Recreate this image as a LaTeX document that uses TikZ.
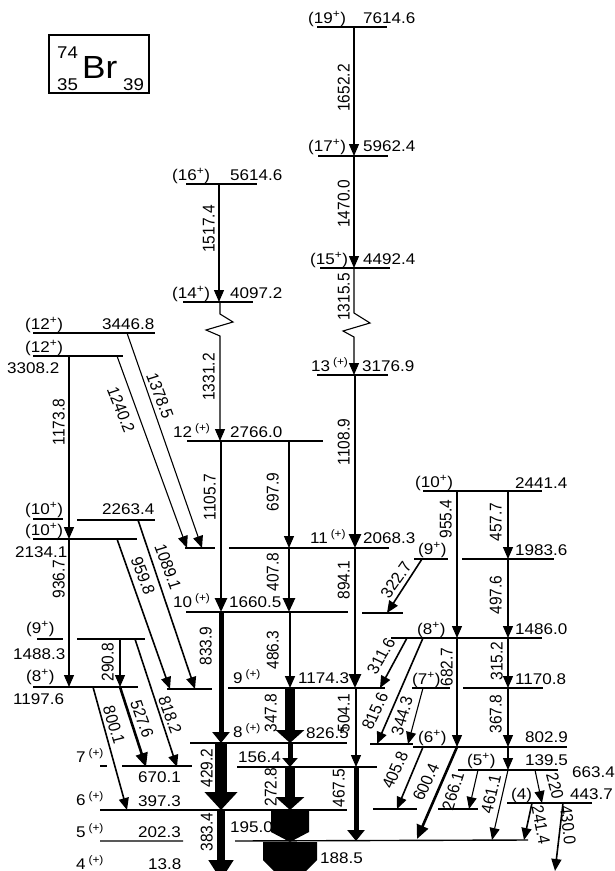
\documentclass[tikz,border=0pt]{standalone}
\usepackage{fontspec}
\setmainfont{Liberation Sans}
\usetikzlibrary{arrows.meta}
\begin{document}
\begin{tikzpicture}[x=1pt,y=-1pt,
  lvl/.style={line width=1.4pt},
  gam/.style={line width=1.1pt,-{Triangle[length=12pt,width=10pt]}},
  gamb/.style={line width=1.6pt,-{Triangle[length=12pt,width=10pt]}},
  gamc/.style={line width=2.6pt,-{Triangle[length=14pt,width=12pt]}},
  gamd/.style={line width=5pt,-{Triangle[length=11pt,width=17pt]}},
  game/.style={line width=10pt,-{Triangle[length=13pt,width=28pt]}},
  lab/.style={font=\fontsize{15.5}{18}\selectfont,inner sep=0pt,anchor=base west,xscale=1.1},
  vlab/.style={font=\fontsize{15.5}{18}\selectfont,inner sep=0pt,xscale=1.1,rotate=90,anchor=south},
  dlab/.style={font=\fontsize{15.5}{18}\selectfont,inner sep=0pt,xscale=1.1}]
  \useasboundingbox (0,0) rectangle (615,871);
  \clip (0,0) rectangle (615,871);
  % nucleus
  \draw[line width=1.2pt] (49,35) rectangle (149,93);
  \node[lab,font=\fontsize{17}{18}\selectfont] (mass) at (57,58) {74};
  \node[lab,font=\fontsize{32}{36}\selectfont] (elem) at (82,78) {Br};
  \node[lab,font=\fontsize{17}{18}\selectfont] (prot) at (57,90) {35};
  \node[lab,font=\fontsize{17}{18}\selectfont] (neut) at (123,90) {39};
  % levels
  \draw[lvl] (317,27) -- (387,27);
  \draw[lvl] (318,156) -- (388,156);
  \draw[lvl] (320,268) -- (390,268);
  \draw[lvl] (186,184) -- (257,184);
  \draw[lvl] (183,302) -- (253,302);
  \draw[lvl] (317,375) -- (388,375);
  \draw[lvl] (33,333) -- (155,333);
  \draw[lvl] (33,356) -- (123,356);
  \draw[lvl] (187,441) -- (323,441);
  \draw[lvl] (185,548) -- (215,548) (229,548) -- (389,548);
  \draw[lvl] (33,519) -- (63,519) (77,520) -- (155,520);
  \draw[lvl] (33,539) -- (137,539);
  \draw[lvl] (186,612) -- (348,612) (362,613) -- (403,613);
  \draw[lvl] (37,639) -- (63,639) (77,639) -- (145,639);
  \draw[lvl] (33,687) -- (138,687);
  \draw[lvl] (167,689) -- (212,689) (228,688) -- (385,688);
  \draw[lvl] (190,743) -- (347,743) (370,744) -- (413,744);
  \draw[lvl] (100,766) -- (107,766) (122,766) -- (192,766) (237,767) -- (377,767);
  \draw[lvl] (100,810) -- (347,810) (373,809) -- (417,809) (438,809) -- (478,809);
  \draw[lvl] (100,841) -- (183,841) (235,841) -- (528,840);
  \draw[lvl] (423,491) -- (542,491);
  \draw[lvl] (462,559) -- (554,559);
  \draw[lvl] (414,559) -- (448,559);
  \draw[lvl] (391,638) -- (542,638);
  \draw[lvl] (412,688) -- (450,688);
  \draw[lvl] (463,688) -- (543,688);
  \draw[lvl] (413,747) -- (567,747);
  \draw[lvl] (458,770) -- (558,770);
  \draw[lvl] (507,803) -- (592,803);
  % level labels
  \node[lab] (s7614) at (308,23) {(19\textsuperscript{+})};
  \node[lab] (e7614) at (363,23) {7614.6};
  \node[lab] (s5962) at (308,151) {(17\textsuperscript{+})};
  \node[lab] (e5962) at (363,151) {5962.4};
  \node[lab] (s4492) at (310,264) {(15\textsuperscript{+})};
  \node[lab] (e4492) at (363,264) {4492.4};
  \node[lab] (s5614) at (172,180) {(16\textsuperscript{+})};
  \node[lab] (e5614) at (230,180) {5614.6};
  \node[lab] (s4097) at (172,298) {(14\textsuperscript{+})};
  \node[lab] (e4097) at (230,298) {4097.2};
  \node[lab] (s3176) at (311,371) {13\,\textsuperscript{(+)}};
  \node[lab] (e3176) at (362,371) {3176.9};
  \node[lab] (s3446) at (25,329) {(12\textsuperscript{+})};
  \node[lab] (e3446) at (102,329) {3446.8};
  \node[lab] (s3308) at (25,352) {(12\textsuperscript{+})};
  \node[lab] (e3308) at (7,373) {3308.2};
  \node[lab] (s2766) at (173,437) {12\,\textsuperscript{(+)}};
  \node[lab] (e2766) at (230,437) {2766.0};
  \node[lab] (s2068) at (310,543) {11\,\textsuperscript{(+)}};
  \node[lab] (e2068) at (363,543) {2068.3};
  \node[lab] (s2263) at (25,514) {(10\textsuperscript{+})};
  \node[lab] (e2263) at (102,514) {2263.4};
  \node[lab] (s2134) at (25,535) {(10\textsuperscript{+})};
  \node[lab] (e2134) at (15,557) {2134.1};
  \node[lab] (s1660) at (173,607) {10\,\textsuperscript{(+)}};
  \node[lab] (e1660) at (229,607) {1660.5};
  \node[lab] (s1488) at (26,633) {(9\textsuperscript{+})};
  \node[lab] (e1488) at (13,659) {1488.3};
  \node[lab] (s1197) at (26,681) {(8\textsuperscript{+})};
  \node[lab] (e1197) at (13,704) {1197.6};
  \node[lab] (s1174) at (233,683) {9\,\textsuperscript{(+)}};
  \node[lab] (e1174) at (298,683) {1174.3};
  \node[lab] (s826) at (233,737) {8\,\textsuperscript{(+)}};
  \node[lab] (e826) at (306,738) {826.5};
  \node[lab] (s670) at (76,762) {7\,\textsuperscript{(+)}};
  \node[lab] (e670) at (138,782) {670.1};
  \node[lab] (s397) at (76,805) {6\,\textsuperscript{(+)}};
  \node[lab] (e397) at (138,806) {397.3};
  \node[lab] (s202) at (76,837) {5\,\textsuperscript{(+)}};
  \node[lab] (e202) at (138,837) {202.3};
  \node[lab] (s13) at (76,869) {4\,\textsuperscript{(+)}};
  \node[lab] (e13) at (148,869) {13.8};
  \node[lab] (e156) at (238,762) {156.4};
  \node[lab] (e195) at (230,832) {195.0};
  \node[lab] (e188) at (320,863) {188.5};
  \node[lab] (s2441) at (415,487) {(10\textsuperscript{+})};
  \node[lab] (e2441) at (515,488) {2441.4};
  \node[lab] (e1983) at (515,555) {1983.6};
  \node[lab] (s1983) at (418,554) {(9\textsuperscript{+})};
  \node[lab] (s1486) at (417,634) {(8\textsuperscript{+})};
  \node[lab] (e1486) at (515,634) {1486.0};
  \node[lab] (s1170) at (412,684) {(7\textsuperscript{+})};
  \node[lab] (e1170) at (515,684) {1170.8};
  \node[lab] (s802) at (418,742) {(6\textsuperscript{+})};
  \node[lab] (e802) at (525,742) {802.9};
  \node[lab] (s663) at (467,765) {(5\textsuperscript{+})};
  \node[lab] (e139) at (525,765) {139.5};
  \node[lab] (e663) at (572,777) {663.4};
  \node[lab] (s443) at (511,799) {(4)};
  \node[lab] (e443) at (570,799) {443.7};
  % transitions
  \draw[gam] (354,27) -- (354,156);
  \draw[gam] (354,156) -- (354,268);
  \draw[gam] (354,268) -- (354,313) -- (370,323) -- (343,331) -- (354,337) -- (354,375);
  \draw[gam] (219,184) -- (219,302);
  \draw[gam] (220,302) -- (220,314) -- (233,322) -- (206,330) -- (220,336) -- (220,441);
  \draw[gamc] (355,375) -- (355,548);
  \draw[gamc] (221,441) -- (221,612);
  \draw[gam] (289,441) -- (289,548);
  \draw[gamc] (289,548) -- (289,612);
  \draw[gamc] (355,548) -- (355,688);
  \draw[gam] (127,333) -- (202,548);
  \draw[gam] (117,356) -- (187,548);
  \draw[gam] (69,356) -- (69,539);
  \draw[gamb] (138,520) -- (195,689);
  \draw[gamb] (117,539) -- (170,689);
  \draw[gam] (69,539) -- (69,687);
  \draw[gam] (120,639) -- (120,687);
  \draw[gamc] (120,687) -- (146,767);
  \draw[gamb] (135,639) -- (177,767);
  \draw[gamb] (93,687) -- (127,810);
  \draw[gamd] (221,612) -- (221,743);
  \draw[gamb] (290,612) -- (290,688);
  \draw[game] (290,688) -- (290,743);
  \draw[line width=5pt,-{Triangle[length=9pt,width=15pt]}] (290,743) -- (290,767);
  \draw[game] (290,767) -- (290,810);
  \draw[line width=12pt,-{Triangle[length=18pt,width=32pt]}] (221,743) -- (221,810);
  \draw[line width=8pt,-{Triangle[length=20pt,width=24pt]}] (221,810) -- (221,880);
  \fill (271,810) -- (309,810) -- (309,832) -- (290,842) -- (271,832) -- cycle;
  \fill (263,842) -- (317,842) -- (317,860) -- (290,887) -- (263,860) -- cycle;
  \draw[gam] (356,688) -- (356,767);
  \draw[gamd] (356,767) -- (356,841);
  \draw[gamb] (422,559) -- (387,613);
  \draw[gam] (457,491) -- (457,638);
  \draw[gam] (508,491) -- (508,559);
  \draw[gam] (508,559) -- (508,638);
  \draw[gamb] (407,638) -- (380,688);
  \draw[gamb] (423,638) -- (377,744);
  \draw[gam] (457,638) -- (457,747);
  \draw[gam] (508,638) -- (508,688);
  \draw[gam] (423,688) -- (408,744);
  \draw[gam] (508,688) -- (508,747);
  \draw[gam] (508,747) -- (508,770);
  \draw[gamb] (423,747) -- (397,809);
  \draw[gamc] (457,747) -- (417,839);
  \draw[gam] (478,770) -- (469,809);
  \draw[gam] (508,770) -- (492,840);
  \draw[gam] (535,770) -- (542,803);
  \draw[gamb] (532,803) -- (524,840);
  \draw[gamb] (563,803) -- (555,871);
  % transition labels
  \node[vlab] (g1652) at (350,88) {1652.2};
  \node[vlab] (g1470) at (350,204) {1470.0};
  \node[vlab] (g1315) at (350,297) {1315.5};
  \node[vlab] (g1517) at (215,229) {1517.4};
  \node[vlab] (g1331) at (215,377) {1331.2};
  \node[vlab] (g1108) at (350,442) {1108.9};
  \node[vlab] (g1105) at (216,497) {1105.7};
  \node[vlab] (g697) at (279,492) {697.9};
  \node[vlab] (g407) at (279,572) {407.8};
  \node[vlab] (g894) at (350,580) {894.1};
  \node[vlab] (g1173) at (65,422) {1173.8};
  \node[vlab] (g936) at (65,579) {936.7};
  \node[vlab] (g955) at (452,519) {955.4};
  \node[vlab] (g457) at (502,522) {457.7};
  \node[vlab] (g497) at (502,595) {497.6};
  \node[vlab] (g833) at (212,646) {833.9};
  \node[vlab] (g486) at (279,650) {486.3};
  \node[vlab] (g290) at (114,662) {290.8};
  \node[vlab] (g682) at (453,667) {682.7};
  \node[vlab] (g315) at (503,661) {315.2};
  \node[vlab] (g367) at (502,714) {367.8};
  \node[vlab] (g504) at (350,713) {504.1};
  \node[vlab] (g347) at (277,713) {347.8};
  \node[vlab] (g429) at (213,768) {429.2};
  \node[vlab] (g272) at (277,787) {272.8};
  \node[vlab] (g383) at (213,832) {383.4};
  \node[vlab] (g467) at (345,788) {467.5};
  \node[dlab,rotate=-70.8] (g1378) at (160,396) {1378.5};
  \node[dlab,rotate=-70] (g1240) at (121,410) {1240.2};
  \node[dlab,rotate=-71.4] (g1089) at (168,567) {1089.1};
  \node[dlab,rotate=-70.5] (g959) at (143,576) {959.8};
  \node[dlab,rotate=-71.8] (g818) at (170,715) {818.2};
  \node[dlab,rotate=-72] (g527) at (142,719) {527.6};
  \node[dlab,rotate=-74.5] (g800) at (114,725) {800.1};
  \node[dlab,rotate=57] (g322) at (396,580) {322.7};
  \node[dlab,rotate=61.6] (g311) at (381,656) {311.6};
  \node[dlab,rotate=66.5] (g815) at (375,711) {815.6};
  \node[dlab,rotate=75] (g344) at (402,716) {344.3};
  \node[dlab,rotate=67] (g405) at (395,770) {405.8};
  \node[dlab,rotate=66.5] (g600) at (426,782) {600.4};
  \node[dlab,rotate=74] (g266) at (453,791) {266.1};
  \node[dlab,rotate=77.7] (g461) at (491,794) {461.1};
  \node[dlab,rotate=-76] (g220) at (555,786) {220};
  \node[dlab,rotate=-80] (g241) at (541,825) {241.4};
  \node[dlab,rotate=-84] (g430) at (568,825) {430.0};
\end{tikzpicture}
\end{document}
